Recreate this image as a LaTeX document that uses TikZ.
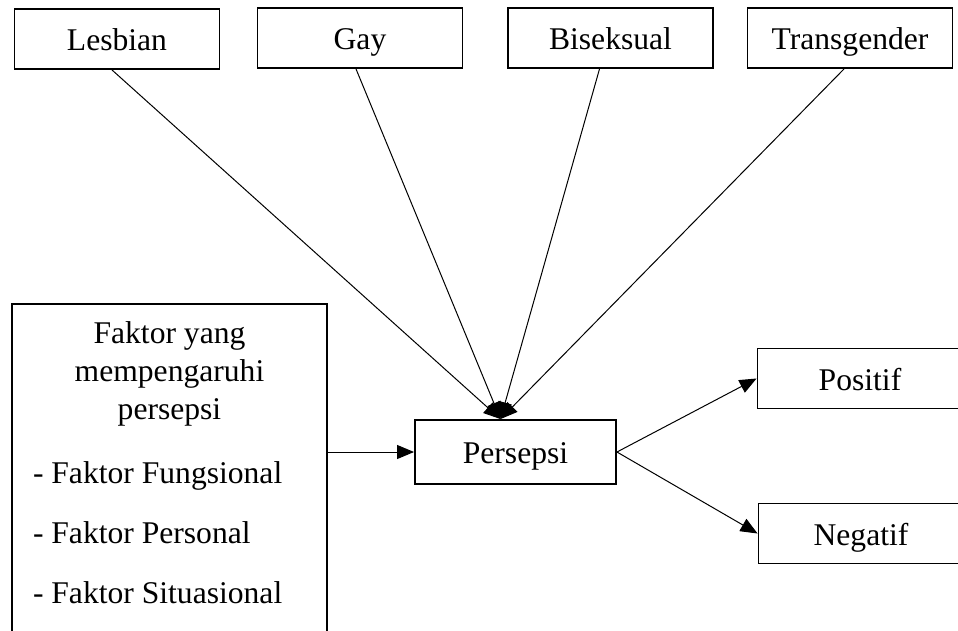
\documentclass[tikz,border=0pt]{standalone}
\usepackage{fontspec}
\setmainfont{Liberation Serif}
\usetikzlibrary{arrows.meta}

\begin{document}
\begin{tikzpicture}[x=1pt, y=-1pt,
                    >={Triangle[length=17pt,width=14pt]},
                    font=\fontsize{31.6pt}{38pt}\selectfont,
                    kotak/.style={draw, rectangle, line width=1.9pt, minimum width=205pt, minimum height=60pt, text height=23pt, text depth=0pt},
                    faktorbox/.style={draw, rectangle, line width=1.9pt, anchor=north, inner xsep=21pt, inner ysep=18pt},
                    pa/.style={->, line width=1pt}]

\useasboundingbox (0,0) rectangle (958,630);

% baris atas
\node [kotak] (lesbian) at (117,39) {Lesbian};
\node [kotak] (gay) at (360,38) {Gay};
\node [kotak] (biseksual) at (610.5,38) {Biseksual};
\node [kotak] (transgender) at (850,38) {Transgender};

\node [kotak, minimum width=201pt, minimum height=64pt] (persepsi) at (515.5,452) {Persepsi};
\node [kotak] (positif) at (860,378.5) {Positif};
\node [kotak] (negatif) at (861,533.5) {Negatif};

\node [faktorbox] (faktor) at (169.5,303) {\parbox[c][360pt][t]{273pt}{%
  \centering Faktor yang\\ mempengaruhi\\ persepsi\par
  \vspace{26pt}\raggedright
  - Faktor Fungsional\\[22pt]
  - Faktor Personal\\[22pt]
  - Faktor Situasional}};

\draw [pa] ([xshift=-5pt]lesbian.south) -- ([xshift=-15pt]persepsi.north);
\draw [pa] ([xshift=-4pt]gay.south) -- ([xshift=-15pt]persepsi.north);
\draw [pa] ([xshift=-11pt]biseksual.south) -- ([xshift=-15pt]persepsi.north);
\draw [pa] ([xshift=-6pt]transgender.south) -- ([xshift=-15pt]persepsi.north);
\draw [pa] (persepsi.west -| faktor.east) -- (persepsi.west);
\draw [pa] (persepsi.east) -- (positif.west);
\draw [pa] (persepsi.east) -- (negatif.west);

\end{tikzpicture}
\end{document}
